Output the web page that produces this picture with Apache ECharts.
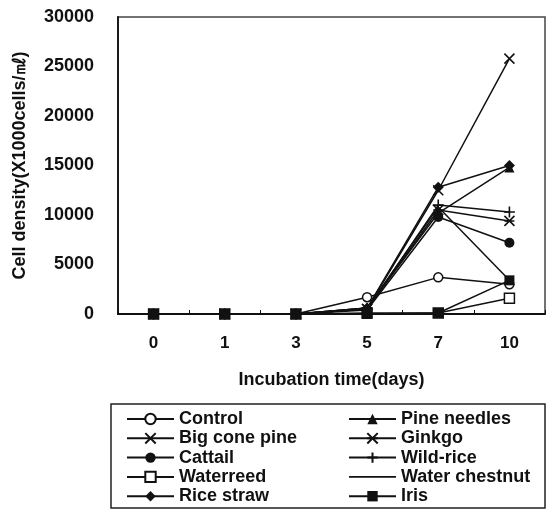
<!DOCTYPE html>
<html>
<head>
<meta charset="utf-8">
<script src="https://cdn.jsdelivr.net/npm/echarts@6/dist/echarts.min.js"></script>
<style>
  html, body { margin: 0; padding: 0; background: #fff; }
  #chart { width: 547px; height: 511px; }
</style>
</head>
<body>
<div id="chart"></div>
<script>
// Incubation days (category axis)
const days = ['0', '1', '3', '5', '7', '10'];

// Cell density (x1000 cells/mL) per extract
const control       = [0, 0, 0, 1700, 3700, 3000];
const pineNeedles   = [0, 0, 0, 600, 10200, 14800];
const bigConePine   = [0, 0, 0, 500, 12500, 25800];
const ginkgo        = [0, 0, 0, 500, 10500, 9400];
const cattail       = [0, 0, 0, 400, 9800, 7200];
const wildRice      = [0, 0, 0, 500, 11000, 10300];
const waterreed     = [0, 0, 0, 100, 100, 1600];
const waterChestnut = [0, 0, 0, 600, 10800, 3400];
const riceStraw     = [0, 0, 0, 600, 12800, 15000];
const iris          = [0, 0, 0, 0, 100, 3400];

const yTicks = { min: 0, max: 30000, interval: 5000 };

const FONT = 'Liberation Sans, Arial, sans-serif';
const BLACK = '#111';

const crossPath = 'path://M0,0L10,10M10,0L0,10';
const starPath = 'path://M0,0L10,10M10,0L0,10M0,5L10,5';
const plusPath = 'path://M5,0L5,10M0,5L10,5';
// plain line icon for a series drawn without markers
const bareLineIcon = 'path://M0,0L47,0L47,1.6L0,1.6Z';

function line(name, data, symbol, size, hollow) {
  return {
    name: name,
    type: 'line',
    data: data,
    symbol: symbol,
    symbolSize: size,
    showSymbol: symbol !== 'none',
    lineStyle: { color: BLACK, width: 1.5 },
    itemStyle: {
      color: hollow ? '#fff' : BLACK,
      borderColor: BLACK,
      borderWidth: symbol.indexOf('path://') === 0 ? 1.6 : (hollow ? 1.5 : 0)
    },
    emphasis: { disabled: true },
    animation: false
  };
}

const series = [
  line('Control', control, 'circle', 9, true),
  line('Big cone pine', bigConePine, crossPath, 10, false),
  line('Cattail', cattail, 'circle', 10, false),
  line('Waterreed', waterreed, 'rect', 10, true),
  line('Rice straw', riceStraw, 'diamond', 11, false),
  line('Pine needles', pineNeedles, 'triangle', 10, false),
  line('Ginkgo', ginkgo, starPath, 10, false),
  line('Wild-rice', wildRice, plusPath, 11, false),
  line('Water chestnut', waterChestnut, 'none', 0, false),
  line('Iris', iris, 'rect', 10, false)
];

const legendText = { fontFamily: FONT, fontSize: 18, fontWeight: 'bold', color: BLACK, lineHeight: 17 };
const legendCommon = {
  orient: 'vertical', top: 410, padding: 0, height: 100,
  itemWidth: 47, itemHeight: 13, itemGap: 1.3,
  symbolKeepAspect: true,
  textStyle: legendText, selectedMode: false
};

const chart = echarts.init(document.getElementById('chart'), null, { renderer: 'canvas' });
chart.setOption({
  backgroundColor: '#fff',
  animation: false,
  grid: {
    left: 118, right: 2, top: 17, bottom: 197,
    show: true, borderColor: '#444', borderWidth: 1.5, backgroundColor: 'transparent'
  },
  xAxis: {
    type: 'category',
    data: days,
    boundaryGap: true,
    axisLine: { lineStyle: { color: BLACK, width: 1.8 } },
    axisTick: { show: true, inside: true, length: 4, lineStyle: { color: BLACK } },
    axisLabel: { fontFamily: FONT, fontSize: 17, fontWeight: 'bold', color: BLACK, margin: 21 },
    name: 'Incubation time(days)',
    nameLocation: 'middle',
    nameGap: 57,
    nameTextStyle: { fontFamily: FONT, fontSize: 18, fontWeight: 'bold', color: BLACK }
  },
  yAxis: {
    type: 'value',
    min: yTicks.min, max: yTicks.max, interval: yTicks.interval,
    splitLine: { show: false },
    axisLine: { show: true, lineStyle: { color: BLACK, width: 1.8 } },
    axisTick: { show: false },
    axisLabel: {
      fontFamily: FONT, fontSize: 18, fontWeight: 'bold', color: BLACK, margin: 24,
      formatter: function (v) { return String(v); }
    },
    name: 'Cell density(X1000cells/㎖)',
    nameLocation: 'middle',
    nameGap: 89,
    nameTextStyle: { fontFamily: FONT, fontSize: 18, fontWeight: 'bold', color: BLACK }
  },
  legend: [
    Object.assign({}, legendCommon, {
      data: ['Control', 'Big cone pine', 'Cattail', 'Waterreed', 'Rice straw'],
      left: 126
    }),
    Object.assign({}, legendCommon, {
      data: ['Pine needles', 'Ginkgo', 'Wild-rice',
             { name: 'Water chestnut', icon: bareLineIcon, itemStyle: { color: BLACK, borderWidth: 0 } },
             'Iris'],
      left: 348
    })
  ],
  graphic: [
    {
      type: 'rect',
      shape: { x: 111, y: 404, width: 434, height: 104 },
      style: { fill: 'none', stroke: '#222', lineWidth: 1.5 },
      silent: true
    }
  ],
  series: series
});
</script>
</body>
</html>
